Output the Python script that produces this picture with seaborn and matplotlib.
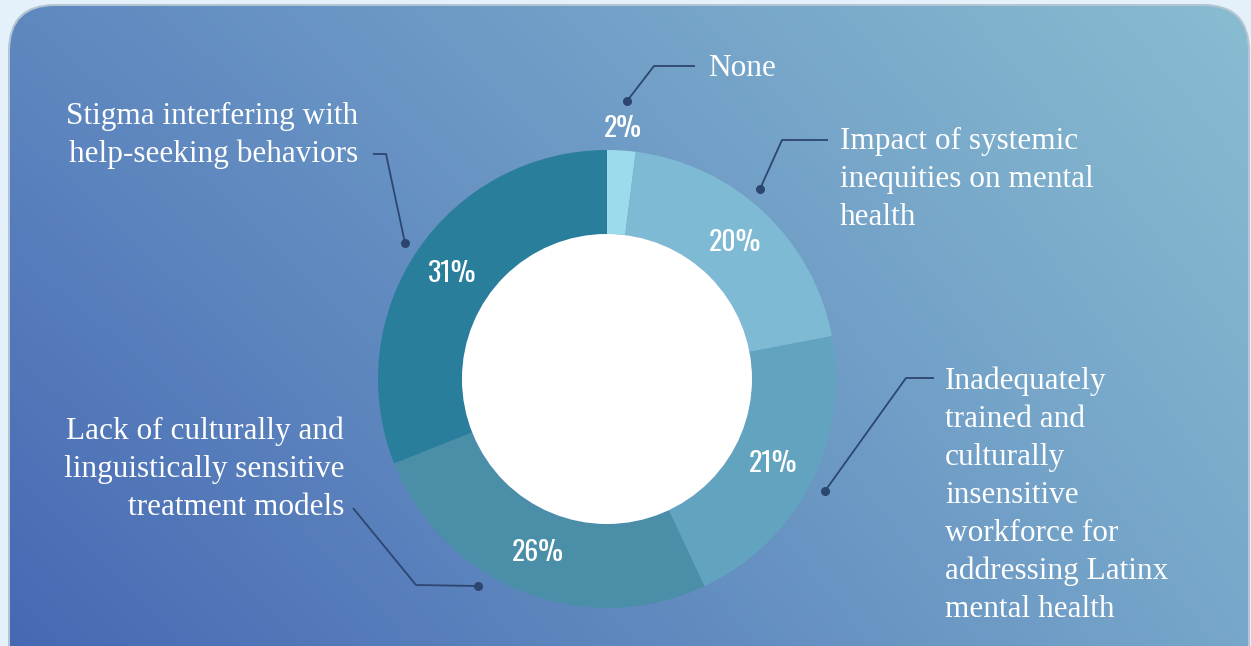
import numpy as np
import matplotlib
matplotlib.use("Agg")
import matplotlib.pyplot as plt
from matplotlib.patches import FancyBboxPatch, Circle
from matplotlib import font_manager
import seaborn as sns

# ---------------- data ----------------
categories = [
    "None",
    "Impact of systemic\ninequities on mental\nhealth",
    "Inadequately\ntrained and\nculturally\ninsensitive\nworkforce for\naddressing Latinx\nmental health",
    "Lack of culturally and\nlinguistically sensitive\ntreatment models",
    "Stigma interfering with\nhelp-seeking behaviors",
]
values = [2, 20, 21, 26, 31]
slice_colors = ["#9cdbec", "#7ebad4", "#62a4c0", "#4a8ea8", "#287e9b"]

sns.set_theme(style="white")

W, H = 1251, 646
fig = plt.figure(figsize=(W / 100, H / 100), dpi=100)
fig.patch.set_facecolor("#e4f1fa")
ax = fig.add_axes([0, 0, 1, 1])
ax.set_xlim(0, W)
ax.set_ylim(0, H)
ax.axis("off")

def Y(py):  # image-pixel y -> data y
    return H - py

# ---------------- panel with gradient ----------------
shadow = FancyBboxPatch((8, -60), 1242, Y(4) + 60, boxstyle="round,pad=0,rounding_size=47",
                        facecolor="#b3c4d2", edgecolor="none", zorder=0)
ax.add_patch(shadow)
panel = FancyBboxPatch((10, -60), 1238, Y(6) + 60, boxstyle="round,pad=0,rounding_size=45",
                       facecolor="none", edgecolor="none", zorder=1)
ax.add_patch(panel)

def hex2rgb(h):
    h = h.lstrip("#")
    return np.array([int(h[i:i + 2], 16) for i in (0, 2, 4)]) / 255.0

TL, TR, BL, BR = map(hex2rgb, ["#5f88c0", "#89bdd1", "#4668b3", "#77a7ca"])
u = np.linspace(0, 1, W)[None, :, None]
v = np.linspace(0, 1, H)[:, None, None]
grad = (1 - v) * ((1 - u) * TL + u * TR) + v * ((1 - u) * BL + u * BR)
im = ax.imshow(grad, extent=(0, W, 0, H), origin="upper", zorder=1, aspect="auto")
im.set_clip_path(panel)

# ---------------- donut ----------------
cx, cy, R, r_in = 607, Y(379), 229, 145
wedges, _ = ax.pie(values, colors=slice_colors, startangle=90, counterclock=False,
                   center=(cx, cy), radius=R,
                   wedgeprops=dict(width=R - r_in, edgecolor="none", linewidth=0))
for w in wedges:
    w.set_zorder(3)
ax.add_patch(Circle((cx, cy), r_in, facecolor="white", edgecolor="none", zorder=4))
ax.set_xlim(0, W)
ax.set_ylim(0, H)
ax.set_aspect("auto")

# percentage font
avail = {f.name for f in font_manager.fontManager.ttflist}
pct_family = next((f for f in ["Oswald", "Liberation Sans Narrow", "DejaVu Sans"] if f in avail), "DejaVu Sans")

cum = np.cumsum([0] + values[:-1])
total = sum(values)
for val, start in zip(values, cum):
    mid = (start + val / 2) / total * 2 * np.pi
    rr = 251 if val < 5 else 187
    x = cx + rr * np.sin(mid)
    y = cy + rr * np.cos(mid)
    ax.text(x, y, f"{val}%", color="white", fontsize=20, family=pct_family,
            fontstretch="condensed", ha="center", va="center", zorder=6)

# ---------------- category labels ----------------
label_pos = [  # (x, first baseline in image px, ha)
    (708, 76, "left"),
    (840, 149, "left"),
    (945, 389, "left"),
    (344, 439, "right"),
    (358, 124, "right"),
]
line_gap = 38
for text, (x, by, ha) in zip(categories, label_pos):
    for i, line in enumerate(text.split("\n")):
        ax.text(x, Y(by + i * line_gap), line, color="white", fontsize=22.5,
                family="Liberation Serif", ha=ha, va="baseline", zorder=6)

# ---------------- leader lines ----------------
leaders = [
    [(695, 66), (654, 66), (627, 101)],
    [(828, 140), (782, 140), (760, 189)],
    [(934, 378), (906, 378), (825, 491)],
    [(353, 508), (416, 585), (478, 586)],
    [(373, 154), (386, 154), (405, 243)],
]
lc = "#2c4670"
for pts in leaders:
    xs = [p[0] for p in pts]
    ys = [Y(p[1]) for p in pts]
    ax.plot(xs, ys, color=lc, lw=1.3, zorder=5, solid_capstyle="butt")
    ax.plot(xs[-1], ys[-1], "o", color=lc, ms=5.5, zorder=5)

fig.savefig("out.png", dpi=100, facecolor=fig.get_facecolor())
